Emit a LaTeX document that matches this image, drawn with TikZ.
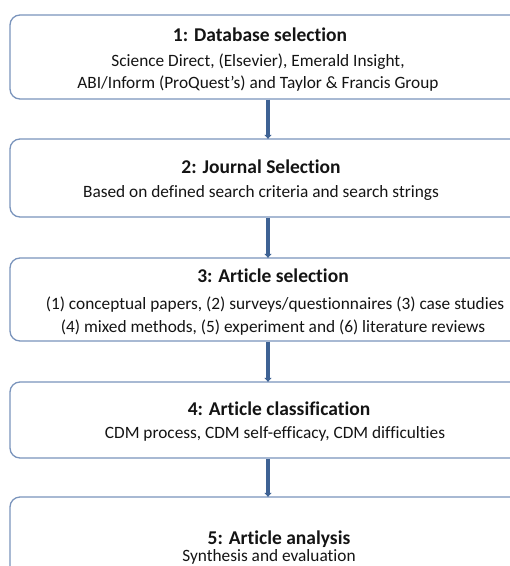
\documentclass[tikz,border=0pt]{standalone}
\usepackage{fontspec}
\setmainfont[Ligatures=NoCommon]{Carlito}
\usetikzlibrary{arrows.meta}
\definecolor{boxline}{RGB}{122,148,188}
\definecolor{arrowc}{RGB}{62,98,148}
\definecolor{txt}{RGB}{20,20,20}
\tikzset{
  stagebox/.style={draw=boxline, line width=1.3pt, rounded corners=10pt, fill=white,
    minimum width=520pt, inner sep=0pt},
  titletext/.style={anchor=base, font=\fontsize{19.5}{23}\selectfont\bfseries, text=txt, inner sep=0pt},
  bodytext/.style={anchor=base, font=\fontsize{17.3}{20}\selectfont, text=txt, inner sep=0pt},
  flowarrow/.style={draw=arrowc, line width=3.5pt, -{Triangle[width=7pt,length=4pt]}, shorten >=-0.5pt}
}
\begin{document}
\begin{tikzpicture}[x=1pt,y=-1pt]
\useasboundingbox (0,0) rectangle (510,566);
\clip (0,0) rectangle (510,566);
\coordinate (ax) at (268,0);
\node[stagebox, minimum height=84pt] (b1) at (270,57) {};
\node[stagebox, minimum height=78pt] (b2) at (270,178) {};
\node[stagebox, minimum height=83pt] (b3) at (270,299.5) {};
\node[stagebox, minimum height=76pt] (b4) at (270,420) {};
\node[stagebox, minimum height=123pt] (b5) at (270,558.5) {};
% texts
\node[titletext] (t1) at (260,41) {1: Database selection};
\node[bodytext] (s1a) at (258,66) {Science Direct, (Elsevier), Emerald Insight,};
\node[bodytext] (s1b) at (258,88) {ABI/Inform (ProQuest’s) and Taylor \& Francis Group};
\node[titletext] (t2) at (261,173) {2: Journal Selection};
\node[bodytext] (s2) at (261,197) {Based on defined search criteria and search strings};
\node[titletext] (t3) at (273,282) {3: Article selection};
\node[bodytext] (s3a) at (275,309) {(1) conceptual papers, (2) surveys/questionnaires (3) case studies};
\node[bodytext] (s3b) at (273,332) {(4) mixed methods, (5) experiment and (6) literature reviews};
\node[titletext] (t4) at (279,415) {4: Article classification};
\node[bodytext] (s4) at (275,438) {CDM process, CDM self-efficacy, CDM difficulties};
\node[titletext] (t5) at (279,544) {5: Article analysis};
\node[bodytext] (s5) at (269,561) {Synthesis and evaluation};
% arrows
\draw[flowarrow] (b1.south -| ax) -- (b2.north -| ax);
\draw[flowarrow] (b2.south -| ax) -- (b3.north -| ax);
\draw[flowarrow] (b3.south -| ax) -- (b4.north -| ax);
\draw[flowarrow] (b4.south -| ax) -- (b5.north -| ax);
\end{tikzpicture}
\end{document}
